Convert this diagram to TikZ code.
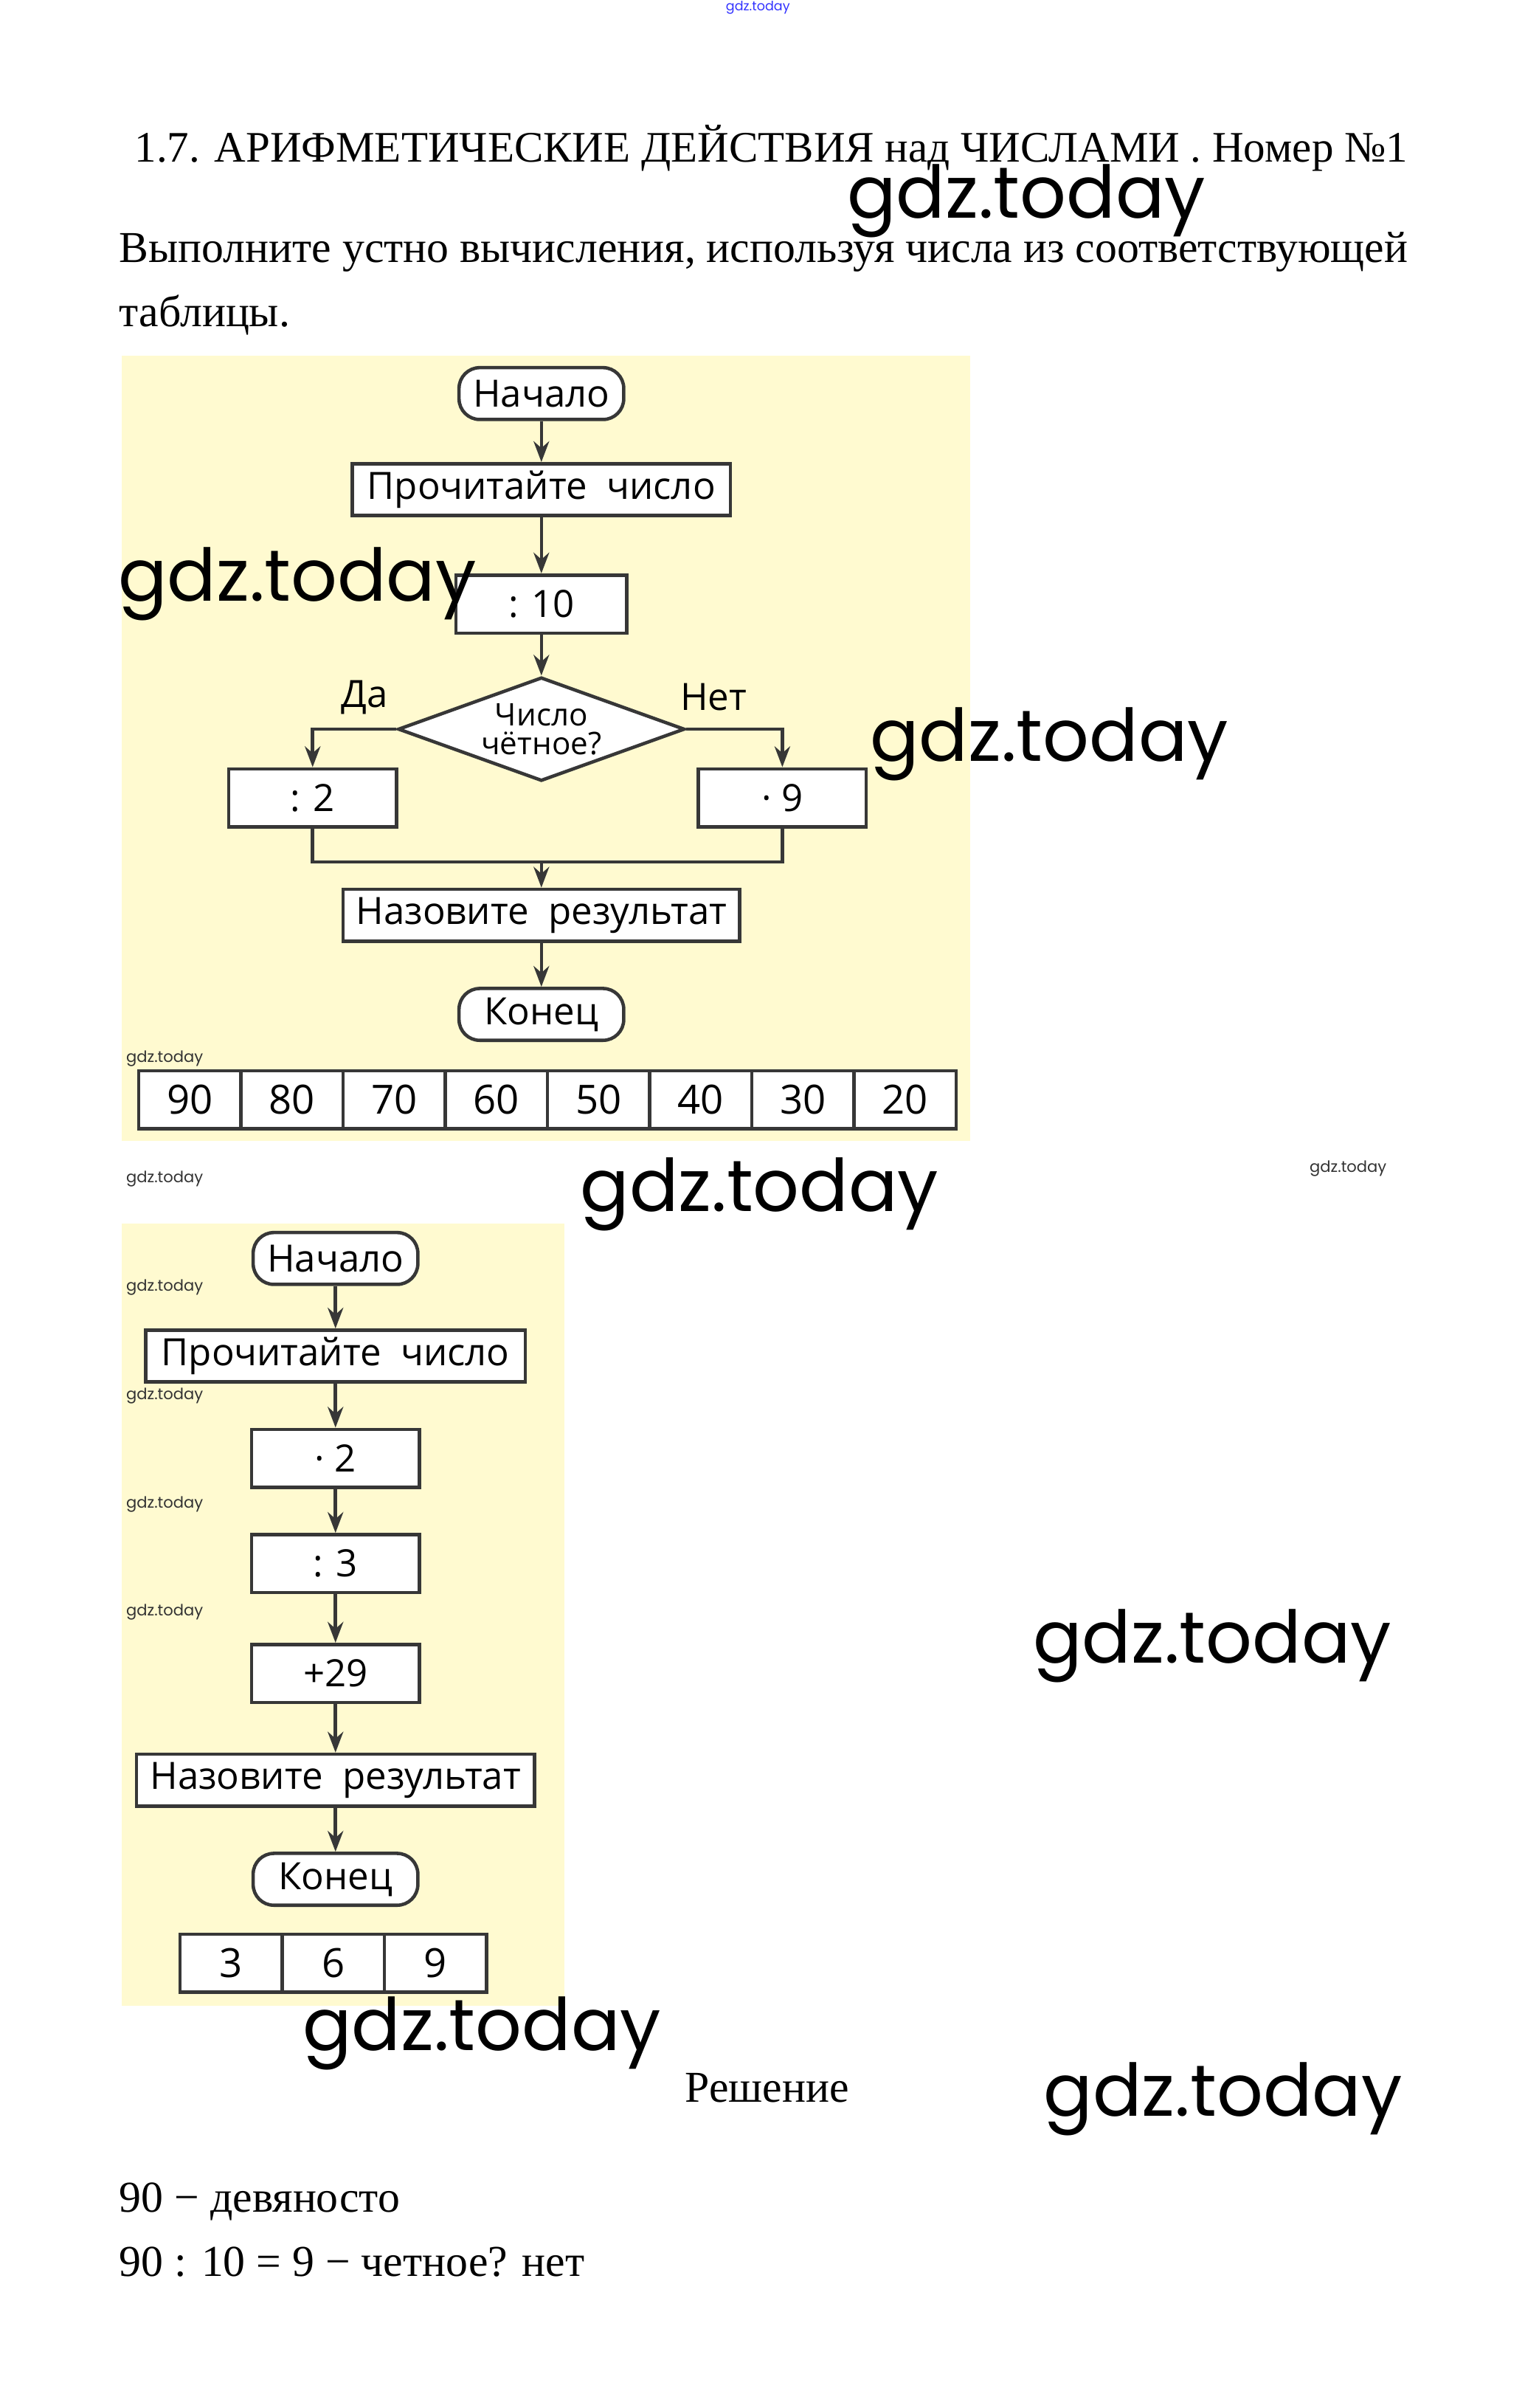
\documentclass[tikz,border=0pt]{standalone}
\usepackage{fontspec}
\setmainfont{Liberation Serif}
\newfontfamily\chartfont{Open Sans}
\newfontfamily\markfont{Poppins}
\usetikzlibrary{shapes.geometric, positioning, arrows.meta}
\definecolor{chartbg}{RGB}{255,250,208}
\definecolor{chartline}{RGB}{55,55,55}
\newcommand{\pxu}{0.02067cm}
\tikzset{
  block/.style={draw=chartline, line width=1.3pt, fill=white, inner sep=0, minimum height=34*\pxu, font=\chartfont\fontsize{14.5}{16}\selectfont},
  term/.style={block, rounded corners=8pt, minimum width=108*\pxu},
  opbox/.style={block, minimum width=110*\pxu, minimum height=38*\pxu},
  choice/.style={diamond, draw=chartline, line width=1.3pt, fill=white, inner sep=0, aspect=2.76, minimum width=188*\pxu, minimum height=68*\pxu, align=center, font=\chartfont\fontsize{12}{11}\selectfont},
  cell/.style={block, minimum width=67*\pxu, minimum height=38*\pxu, font=\chartfont\fontsize{15.5}{17}\selectfont},
  flow/.style={draw=chartline, line width=1.3pt, -{Stealth[length=8pt, width=6pt]}},
  joint/.style={draw=chartline, line width=1.3pt},
  answer/.style={font=\chartfont\fontsize{14.5}{16}\selectfont},
  bigmark/.style={font=\markfont\fontsize{28}{30}\selectfont, inner sep=0},
  smallmark/.style={font=\markfont\fontsize{6}{7}\selectfont, text=black!80, inner sep=0},
  body/.style={anchor=base west, inner sep=0, font=\fontsize{17}{20}\selectfont},
}

\begin{document}
\begin{tikzpicture}[x=\pxu, y=-\pxu]
  \useasboundingbox (0,0) rectangle (1000,1578.6);

  % heading and task
  \node[font=\markfont\fontsize{5}{6}\selectfont, text=blue!80, inner sep=0] (topmark) at (497,5) {gdz.today};
  \node[body, font=\fontsize{16.8}{20}\selectfont] (title) at (88,106) {1.7. АРИФМЕТИЧЕСКИЕ ДЕЙСТВИЯ над ЧИСЛАМИ . Номер №1};
  \node[body] (task1) at (78,172) {Выполните устно вычисления, используя числа из соответствующей};
  \node[body] (task2) at (78,214) {таблицы.};

  % first chart
  \fill[chartbg] (80,233) rectangle (636,748);
  \node[term] (start1) at (355,258) {Начало};
  \node[block, minimum width=248*\pxu] (read1) at (355,321) {Прочитайте\ \ число};
  \node[opbox, minimum width=112*\pxu] (div10) at (355,396) {: 10};
  \node[choice] (even) at (355,478) {Число\\чётное?};
  \node[answer] (yes) at (239,457) {Да};
  \node[answer] (no) at (468,457) {Нет};
  \node[opbox] (half) at (205,523) {: 2};
  \node[opbox] (times9) at (513,523) {· 9};
  \coordinate (join1) at (355,565);
  \node[block, minimum width=260*\pxu] (say1) at (355,600) {Назовите\ \ результат};
  \node[term] (end1) at (355,665) {Конец};
  \draw[flow] (start1) -- (read1);
  \draw[flow] (read1) -- (div10);
  \draw[flow] (div10) -- (even);
  \draw[flow] (even.west) -| (half.north);
  \draw[flow] (even.east) -| (times9.north);
  \draw[joint] (half.south) |- (join1) -| (times9.south);
  \draw[flow] (join1) -- (say1);
  \draw[flow] (say1) -- (end1);
  \foreach \v [count=\i] in {90,80,70,60,50,40,30,20}
    \node[cell] (numA\i) at ({91+67*\i-33.5},721) {\v};

  % second chart
  \fill[chartbg] (80,802) rectangle (370,1315);
  \node[term] (start2) at (220,825) {Начало};
  \node[block, minimum width=249*\pxu] (read2) at (220,889) {Прочитайте\ \ число};
  \node[opbox] (mul2) at (220,956) {· 2};
  \node[opbox] (div3) at (220,1025) {: 3};
  \node[opbox] (add29) at (220,1097) {+29};
  \node[block, minimum width=261*\pxu] (say2) at (220,1167) {Назовите\ \ результат};
  \node[term] (end2) at (220,1232) {Конец};
  \draw[flow] (start2) -- (read2);
  \draw[flow] (read2) -- (mul2);
  \draw[flow] (mul2) -- (div3);
  \draw[flow] (div3) -- (add29);
  \draw[flow] (add29) -- (say2);
  \draw[flow] (say2) -- (end2);
  \foreach \v [count=\i] in {3,6,9}
    \node[cell] (numB\i) at ({118+67*\i-33.5},1287) {\v};

  % solution
  \node[font=\fontsize{17}{20}\selectfont, anchor=base, inner sep=0] (solve) at (503,1378) {Решение};
  \node[body] (line1) at (78,1450) {90 − девяносто};
  \node[body] (line2) at (78,1492) {90 : 10 = 9 − четное? нет};

  % watermarks
  \node[bigmark] (markA) at (673,132) {gdz.today};
  \node[bigmark] (markB) at (195,383) {gdz.today};
  \node[bigmark] (markC) at (688,488) {gdz.today};
  \node[bigmark] (markD) at (498,783) {gdz.today};
  \node[bigmark] (markE) at (795,1079) {gdz.today};
  \node[bigmark] (markF) at (316,1333) {gdz.today};
  \node[bigmark] (markG) at (802,1376) {gdz.today};
  \foreach \x/\y [count=\i] in {108/694, 108/773, 884/766, 108/844, 108/915, 108/986, 108/1057}
    \node[smallmark] (tiny\i) at (\x,\y) {gdz.today};
\end{tikzpicture}
\end{document}
